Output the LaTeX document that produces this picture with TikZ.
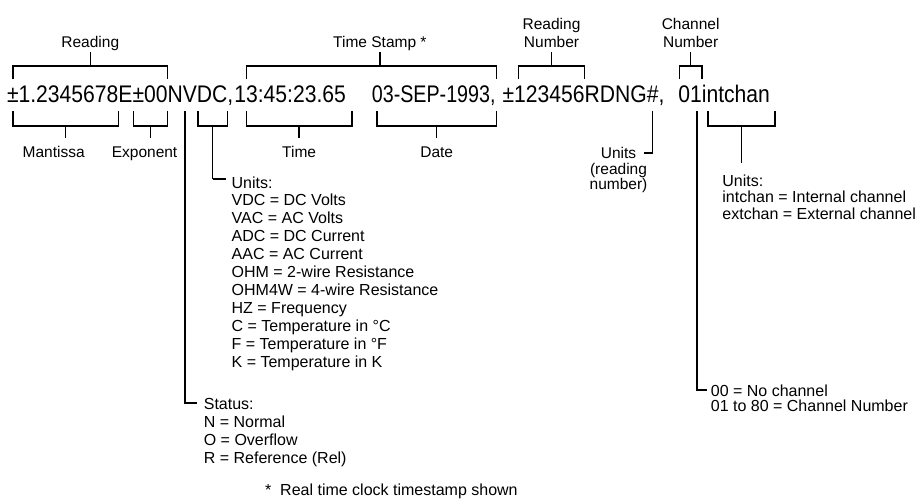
\documentclass[tikz,border=0pt]{standalone}
\usepackage{fontspec}
\setmainfont{Liberation Sans}
\newfontfamily\bigline[FakeStretch=0.88]{Liberation Sans}
\newfontfamily\bignarrow[FakeStretch=0.82]{Liberation Sans}
\usetikzlibrary{calc}
\newcommand\upbr[3]{\draw[br] (#1|-UL) -- (#1|-UH) -- (#2|-UH) -- (#2|-UL); \draw[br] (#3|-UH) -- (#3|-US);}
\newcommand\lowbr[4]{\draw[br] (#1|-LL) -- (#1|-LH) -- (#2|-LH) -- (#2|-LL); \draw[br] (#3|-LH) -- (#3|-#4);}
\begin{document}
\begin{tikzpicture}[x=1pt,y=1pt,
  br/.style={line width=1.5pt, line join=miter, line cap=butt},
  piece/.style={inner sep=0pt, outer sep=0pt, anchor=base west, font=\bigline\fontsize{24}{28}\selectfont},
  lbl/.style={inner sep=0pt, outer sep=0pt, align=center, anchor=base, font=\fontsize{15.5}{18}\selectfont},
  lst/.style={inner sep=0pt, outer sep=0pt, align=left, anchor=base west, font=\fontsize{16}{17.9}\selectfont}]
\useasboundingbox (0,0) rectangle (917,-499);
% y levels
\coordinate (UL) at (0,-79);
\coordinate (UH) at (0,-66);
\coordinate (US) at (0,-52);
\coordinate (LL) at (0,-111);
\coordinate (LH) at (0,-126);
\coordinate (LS) at (0,-138);
\coordinate (yTop) at (0,-47);
\coordinate (yBot) at (0,-157);
% main line
\node[piece] (m) at (7,-102) {±1.2345678};
\node[piece] (e) at (m.base east) {E};
\node[piece] (x) at (e.base east) {±00};
\node[piece] (n) at (x.base east) {N};
\node[piece] (v) at (n.base east) {V};
\node[piece] (dc) at (v.base east) {DC};
\node[piece] (k1) at (dc.base east) {,};
\node[piece] (t) at ($(k1.base east)+(1,0)$) {13:45:23.65};
\node[piece, font=\bignarrow\fontsize{24}{28}\selectfont] (d) at ($(t.base east)+(26,0)$) {03-SEP-1993,};
\node[piece] (r) at ($(d.base east)+(7,0)$) {±123456};
\node[piece] (g) at (r.base east) {RDNG\#};
\node[piece] (k2) at (g.base east) {,};
\node[piece] (ch) at ($(k2.base east)+(14,0)$) {01};
\node[piece] (ic) at (ch.base east) {intchan};
% bracket ends
\coordinate (mL) at ($(m.base west)+(6,0)$);
\coordinate (mR) at (m.base east);
\coordinate (xL) at ($(x.base west)+(1,0)$);
\coordinate (xR) at (x.base east);
\coordinate (nS) at ($(n.base east)+(2,0)$);
\coordinate (uL) at ($(dc.base west)+(1,0)$);
\coordinate (uR) at (dc.base east);
\coordinate (tL) at ($(t.base west)+(12,0)$);
\coordinate (tR) at ($(t.base east)+(6,0)$);
\coordinate (dL) at ($(d.base west)+(5,0)$);
\coordinate (dR) at ($(d.base east)+(1,0)$);
\coordinate (rL) at ($(r.base west)+(16,0)$);
\coordinate (rR) at (r.base east);
\coordinate (gS) at ($(g.base east)+(-6,0)$);
\coordinate (cL) at ($(ch.base west)+(1,0)$);
\coordinate (cR) at (ch.base east);
\coordinate (cS) at ($(ch.base east)+(-5,0)$);
\coordinate (iL) at ($(ic.base west)+(6,0)$);
\coordinate (iR) at ($(ic.base east)+(5,0)$);
% stems
\coordinate (rdS) at ($(mL)!0.5!(xR)$);
\coordinate (tsS) at ($(dL)+(3,0)$);
\coordinate (rnS) at ($(rL)!0.5!(rR)$);
\coordinate (chS) at ($(cL)!0.5!(cR)$);
\coordinate (mS) at ($(mL)!0.5!(mR)$);
\coordinate (xS) at ($(xL)!0.5!(xR)$);
\coordinate (uS) at ($(uL)!0.5!(uR)$);
\coordinate (tS) at ($(tL)!0.5!(tR)$);
\coordinate (dS) at ($(dL)!0.5!(dR)$);
\coordinate (iS) at ($(iL)!0.5!(iR)$);
% upper brackets
\upbr{mL}{xR}{rdS}
\upbr{tL}{dR}{tsS}
\upbr{rL}{rR}{rnS}
\upbr{cL}{cR}{chS}
\node[lbl] (lread) at (rdS|-yTop) {Reading};
\node[lbl] (lts) at (tsS|-yTop) {Time Stamp *};
\node[lbl] (lrn) at (rnS|-yTop) {Reading\\Number};
\node[lbl] (lcn) at (chS|-yTop) {Channel\\Number};
% lower brackets
\lowbr{mL}{mR}{mS}{LS}
\lowbr{xL}{xR}{xS}{LS}
\lowbr{tL}{tR}{tS}{LS}
\lowbr{dL}{dR}{dS}{LS}
\node[lbl] (lman) at ($(mS|-yBot)+(-12,0)$) {Mantissa};
\node[lbl] (lexp) at ($(xS|-yBot)+(-6,0)$) {Exponent};
\node[lbl] (ltime) at (tS|-yBot) {Time};
\node[lbl] (ldate) at (dS|-yBot) {Date};
% units (VDC)
\coordinate (uY) at (0,-179);
\lowbr{uL}{uR}{uS}{uY}
\draw[br] (uS|-uY) -- ++(13,0) coordinate (uE);
\node[lst] (units1) at ($(uE)+(6,-188)$) {Units:\\VDC = DC Volts\\VAC = AC Volts\\ADC = DC Current\\AAC = AC Current\\OHM = 2-wire Resistance\\OHM4W = 4-wire Resistance\\HZ = Frequency\\C = Temperature in °C\\F = Temperature in °F\\K = Temperature in K};
% status
\coordinate (nY) at (0,-403);
\draw[br] (nS|-LL) -- (nS|-nY) -- ++(12,0) coordinate (nE);
\node[lst, font=\fontsize{16}{18.3}\selectfont] (status) at ($(nE)+(7,-60.9)$) {Status:\\N = Normal\\O = Overflow\\R = Reference (Rel)};
% reading-number units
\coordinate (gY) at (0,-153);
\draw[br] (gS|-LL) -- (gS|-gY) -- ++(-9,0) coordinate (gE);
\node[lbl, font=\fontsize{15.5}{15.5}\selectfont] (units2) at ($(gE)+(-25,-36.5)$) {Units\\(reading\\number)};
% channel units
\coordinate (iY) at (0,-163);
\lowbr{iL}{iR}{iS}{iY}
\node[lst, font=\fontsize{16}{16.5}\selectfont] (units3) at ($(iS|-0,-219)+(-19,0)$) {Units:\\intchan = Internal channel\\extchan = External channel};
% channel number
\coordinate (cY) at (0,-390);
\draw[br] (cS|-LL) -- (cS|-cY) -- ++(10,0) coordinate (cE);
\node[lst, font=\fontsize{16}{15.5}\selectfont] (chan) at ($(cE)+(4,-21.5)$) {00 = No channel\\01 to 80 = Channel Number};
% footnote
\node[lst] (foot) at (265,-495.5) {*\hspace{9pt}Real time clock timestamp shown};
\end{tikzpicture}
\end{document}
